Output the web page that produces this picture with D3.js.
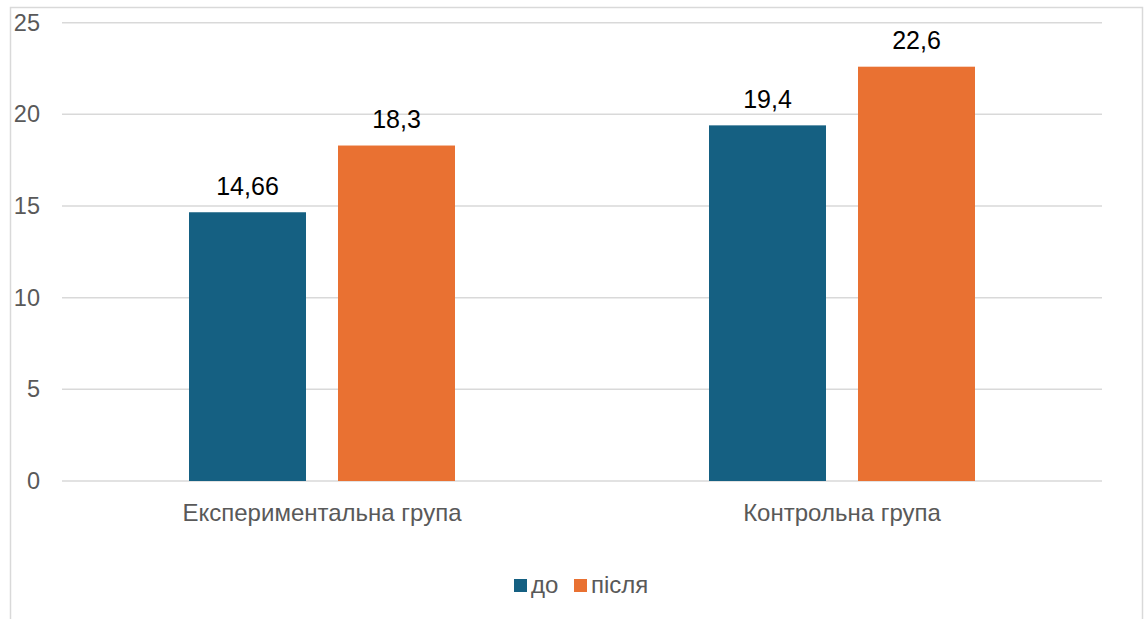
<!DOCTYPE html>
<html>
<head>
<meta charset="utf-8">
<script src="https://cdn.jsdelivr.net/npm/d3@7"></script>
<style>
  html, body { margin: 0; padding: 0; background: #fff; }
  svg { display: block; font-family: "Liberation Sans", Arial, sans-serif; }
</style>
</head>
<body>
<svg id="chart" width="1146" height="619"></svg>
<script>
// Chart data
const categories = ["Експериментальна група", "Контрольна група"];
const seriesNames = ["до", "після"];
const seriesBefore = [14.66, 19.4];
const seriesAfter = [18.3, 22.6];
const valueLabels = [["14,66", "19,4"], ["18,3", "22,6"]];
const yTicks = [0, 5, 10, 15, 20, 25];
const colors = ["#156082", "#E97132"];

const svg = d3.select("#chart");

// Outer frame (bottom edge sits outside the visible area)
svg.append("rect")
  .attr("x", 10.5).attr("y", 7.5)
  .attr("width", 1132).attr("height", 640)
  .attr("fill", "#fff").attr("stroke", "#d9d9d9").attr("stroke-width", 1.5);

const plot = { left: 62, right: 1102, top: 22.7, bottom: 481 };

const x0 = d3.scaleBand().domain(categories).range([plot.left, plot.right]).paddingInner(0).paddingOuter(0);
const y = d3.scaleLinear().domain([0, 25]).range([plot.bottom, plot.top]);

// Gridlines
svg.append("g").selectAll("line").data(yTicks).join("line")
  .attr("x1", plot.left).attr("x2", plot.right)
  .attr("y1", d => y(d)).attr("y2", d => y(d))
  .attr("stroke", "#d9d9d9").attr("stroke-width", 1.5);

// Y axis labels
const yAxis = d3.axisLeft(y).tickValues(yTicks).tickSize(0).tickPadding(0);
const yg = svg.append("g").attr("transform", `translate(40,0)`).call(yAxis);
yg.select(".domain").remove();
yg.selectAll("text").attr("fill", "#595959").attr("font-size", 23.5)
  .attr("font-family", "Liberation Sans, Arial, sans-serif");

// Bars and value labels
const barW = 117, gap = 32;
const series = [seriesBefore, seriesAfter];
series.forEach((vals, si) => {
  const g = svg.append("g");
  const cx = i => {
    const c = x0(categories[i]) + x0.bandwidth() / 2;
    return si === 0 ? c - gap / 2 - barW / 2 : c + gap / 2 + barW / 2;
  };
  g.selectAll("rect").data(vals).join("rect")
    .attr("x", (d, i) => cx(i) - barW / 2)
    .attr("y", d => y(d))
    .attr("width", barW)
    .attr("height", d => y(0) - y(d))
    .attr("fill", colors[si]);
  g.selectAll("text").data(vals).join("text")
    .attr("x", (d, i) => cx(i))
    .attr("y", d => y(d) - 17.5)
    .attr("text-anchor", "middle")
    .attr("font-size", 25)
    .attr("fill", "#000")
    .text((d, i) => valueLabels[si][i]);
});

// Category labels
svg.append("g").selectAll("text").data(categories).join("text")
  .attr("x", d => x0(d) + x0.bandwidth() / 2)
  .attr("y", 521)
  .attr("text-anchor", "middle")
  .attr("font-size", 24)
  .attr("fill", "#595959")
  .text(d => d);

// Legend
const legend = svg.append("g");
const legendItems = [
  { name: seriesNames[0], color: colors[0], x: 514 },
  { name: seriesNames[1], color: colors[1], x: 574 }
];
legendItems.forEach(it => {
  legend.append("rect").attr("x", it.x).attr("y", 579).attr("width", 13).attr("height", 13).attr("fill", it.color);
  legend.append("text").attr("x", it.x + 17).attr("y", 593).attr("font-size", 24).attr("fill", "#595959").text(it.name);
});
</script>
</body>
</html>
